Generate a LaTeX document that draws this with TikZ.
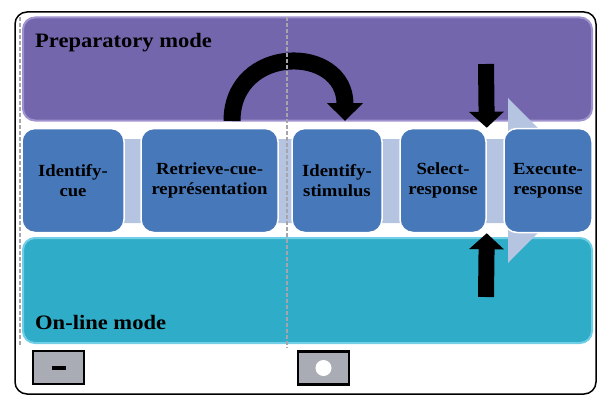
\documentclass[tikz,border=0pt]{standalone}
\usepackage{fontspec}
\setmainfont[FakeStretch=1.1]{Liberation Serif}
\usetikzlibrary{arrows.meta}
\definecolor{prepfill}{RGB}{115,102,172}
\definecolor{prepedge}{RGB}{160,146,206}
\definecolor{linefill}{RGB}{47,173,200}
\definecolor{lineedge}{RGB}{112,206,230}
\definecolor{stepfill}{RGB}{71,120,186}
\definecolor{connfill}{RGB}{181,196,224}
\definecolor{ctrlfill}{RGB}{169,172,180}
\definecolor{sepgray}{RGB}{165,165,170}
\begin{document}
\begin{tikzpicture}[x=1pt, y=-1pt,
    band/.style={draw, rectangle, rounded corners=12pt, line width=2pt,
                 minimum width=569pt, inner sep=0pt},
    stepbox/.style={draw=white, fill=stepfill, rectangle, rounded corners=13pt,
                 line width=1.5pt, minimum height=104pt, inner sep=0pt,
                 text centered, align=center,
                 font=\bfseries\fontsize{17}{19.5}\selectfont},
    modelabel/.style={anchor=base west, inner sep=0pt,
                 font=\bfseries\fontsize{20.5}{24}\selectfont},
    ctrlbox/.style={draw, fill=ctrlfill, line width=2.5pt, rectangle,
                 minimum width=51pt, minimum height=33pt, inner sep=0pt},
    push/.style={line width=16pt, -{Triangle[width=34pt,length=16pt]}},
    sep/.style={draw=sepgray, dash pattern=on 4pt off 2pt, line width=1.8pt}]
    \useasboundingbox (0,0) rectangle (600,396);
    \draw[line width=1.5pt, rounded corners=12pt] (15,12) rectangle (596,394);
    \node[band, fill=prepfill, draw=prepedge, minimum height=103pt] (prep) at (307.5,69) {};
    \node[band, fill=linefill, draw=lineedge, minimum height=105pt] (online) at (307.5,290.5) {};
    \node[modelabel] (preplabel) at (35,48) {Preparatory mode};
    \node[modelabel] (onlinelabel) at (35,329) {On-line mode};
    \fill[connfill] (22,139) -- (508,139) -- (508,98) -- (590,180.5)
        -- (508,263) -- (508,223) -- (22,223) -- cycle;
    \node[stepbox, minimum width=102pt] (idcue)    at (73,180.5)  {Identify-\\cue};
    \node[stepbox, minimum width=137pt] (retrieve) at (209.5,180.5) {Retrieve-cue-\\représentation};
    \node[stepbox, minimum width=90pt]  (idstim)   at (337,180.5) {Identify-\\stimulus};
    \node[stepbox, minimum width=86pt]  (select)   at (443,180.5) {Select-\\response};
    \node[stepbox, minimum width=88pt]  (execute)  at (548,180.5) {Execute-\\response};
    \coordinate (arcfrom) at (232,121);
    \coordinate (arcto)   at (345,121);
    \draw[line width=17pt, -{Triangle[width=35pt,length=18pt]}]
        (arcfrom) .. controls (232,44) and (345,44) .. (arcto);
    \coordinate (pushdown) at (486,64);
    \coordinate (pushup)   at (486,297);
    \draw[push] (pushdown) -- (select.north east);
    \draw[push] (pushup) -- (select.south east);
    \node[ctrlbox] (minusbox) at (58.5,367.5) {\rule[-3pt]{14pt}{4pt}};
    \node[ctrlbox] (dotbox)   at (323.5,368) {};
    \fill[white] (dotbox.center) circle (8);
    \draw[sep] (20,17) -- (20,347);
    \draw[sep] (287,17) -- (287,348);
\end{tikzpicture}
\end{document}
